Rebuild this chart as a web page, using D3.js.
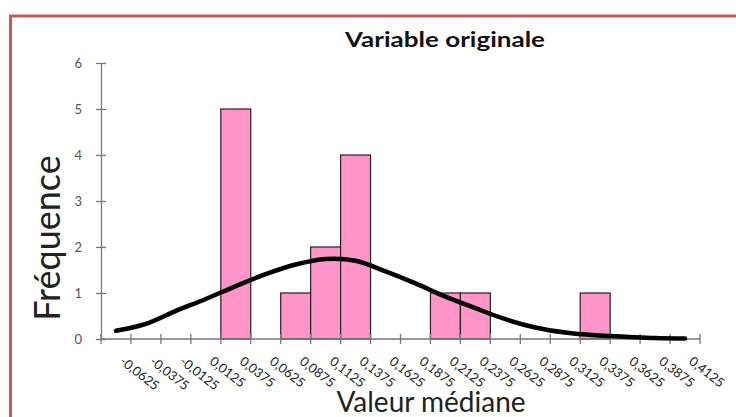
<!DOCTYPE html>
<html>
<head>
<meta charset="utf-8">
<script src="https://cdn.jsdelivr.net/npm/d3@7"></script>
<style>
  html, body { margin: 0; padding: 0; background: #fff; }
  svg { display: block; }
</style>
</head>
<body>
<svg id="chart" width="736" height="417"></svg>
<script>
// ---- data ----
const binLabels = ["-0,0625","-0,0375","-0,0125","0,0125","0,0375","0,0625","0,0875","0,1125","0,1375","0,1625",
                   "0,1875","0,2125","0,2375","0,2625","0,2875","0,3125","0,3375","0,3625","0,3875","0,4125"];
const frequencies = [0,0,0,0,5,0,1,2,4,0,0,1,1,0,0,0,1,0,0,0];
const normalCurve = [0.18,0.33,0.61,0.87,1.15,1.41,1.62,1.74,1.70,1.47,1.21,0.92,0.67,0.43,0.25,0.14,0.08,0.05,0.02,0.01];
const yTicks = [0,1,2,3,4,5,6];
const chartTitle = "Variable originale";
const xTitle = "Valeur médiane";
const yTitle = "Fréquence";

const svg = d3.select("#chart");
const font = "Lato, 'Open Sans', sans-serif";

// frame
svg.append("rect").attr("x", 0).attr("y", 0).attr("width", 736).attr("height", 417).attr("fill", "#fff");
svg.append("rect").attr("x", 10.5).attr("y", 16).attr("width", 800).attr("height", 500)
  .attr("fill", "none").attr("stroke", "#c55a5a").attr("stroke-width", 3);

const x = d3.scaleBand().domain(binLabels).range([101, 700]).padding(0);
const y = d3.scaleLinear().domain([0, 6]).range([339, 63]);

// bars
svg.append("g").selectAll("rect").data(binLabels.map((l, i) => ({l, v: frequencies[i]})).filter(d => d.v > 0))
  .join("rect")
  .attr("x", d => x(d.l)).attr("y", d => y(d.v))
  .attr("width", x.bandwidth()).attr("height", d => y(0) - y(d.v))
  .attr("fill", "#ff94c9").attr("stroke", "#222").attr("stroke-width", 1.2);

// y axis
const axisColor = "#777";
const yAxis = svg.append("g").attr("transform", "translate(101,0)")
  .call(d3.axisLeft(y).tickValues(yTicks).tickFormat(d3.format("d")).tickSizeInner(5).tickSizeOuter(0).tickPadding(14));
yAxis.select(".domain").attr("stroke", axisColor).attr("stroke-width", 1.3);
yAxis.selectAll(".tick line").attr("stroke", axisColor).attr("stroke-width", 1.3).attr("x1", 5).attr("x2", -5);
yAxis.selectAll(".tick text").attr("font-family", font).attr("font-size", 13).attr("fill", "#555");

// x axis
const xAxisG = svg.append("g").attr("transform", "translate(0,339)");
xAxisG.append("line").attr("x1", 101).attr("x2", 700).attr("stroke", axisColor).attr("stroke-width", 1.3);
const boundaries = binLabels.map(l => x(l)).concat([x(binLabels[binLabels.length - 1]) + x.bandwidth()]);
xAxisG.selectAll("line.tk").data(boundaries).join("line").attr("class", "tk")
  .attr("x1", d => d).attr("x2", d => d).attr("y1", -5).attr("y2", 5)
  .attr("stroke", axisColor).attr("stroke-width", 1.3);
xAxisG.selectAll("text").data(binLabels).join("text")
  .attr("transform", d => `translate(${x(d) + x.bandwidth() / 2 + 3},${24}) rotate(38)`)
  .attr("text-anchor", "start")
  .attr("font-family", font).attr("font-size", 13).attr("fill", "#222")
  .text(d => d);

// normal curve
const line = d3.line()
  .x((d, i) => x(binLabels[i]) + x.bandwidth() / 2)
  .y(d => y(d))
  .curve(d3.curveCatmullRom.alpha(0.5));
svg.append("path").datum(normalCurve).attr("d", line)
  .attr("fill", "none").attr("stroke", "#000").attr("stroke-width", 4.5).attr("stroke-linecap", "round");

// titles
svg.append("text").attr("x", 345).attr("y", 47).attr("text-anchor", "start")
  .attr("textLength", 200).attr("lengthAdjust", "spacingAndGlyphs")
  .attr("font-family", font).attr("font-weight", "bold").attr("font-size", 20).attr("fill", "#111")
  .text(chartTitle);
svg.append("text").attr("transform", "translate(60,238) rotate(-90)").attr("text-anchor", "middle")
  .attr("font-family", font).attr("font-size", 36).attr("fill", "#222")
  .text(yTitle);
svg.append("text").attr("x", 431).attr("y", 412).attr("text-anchor", "middle")
  .attr("font-family", font).attr("font-size", 28).attr("fill", "#222")
  .text(xTitle);
</script>
</body>
</html>
